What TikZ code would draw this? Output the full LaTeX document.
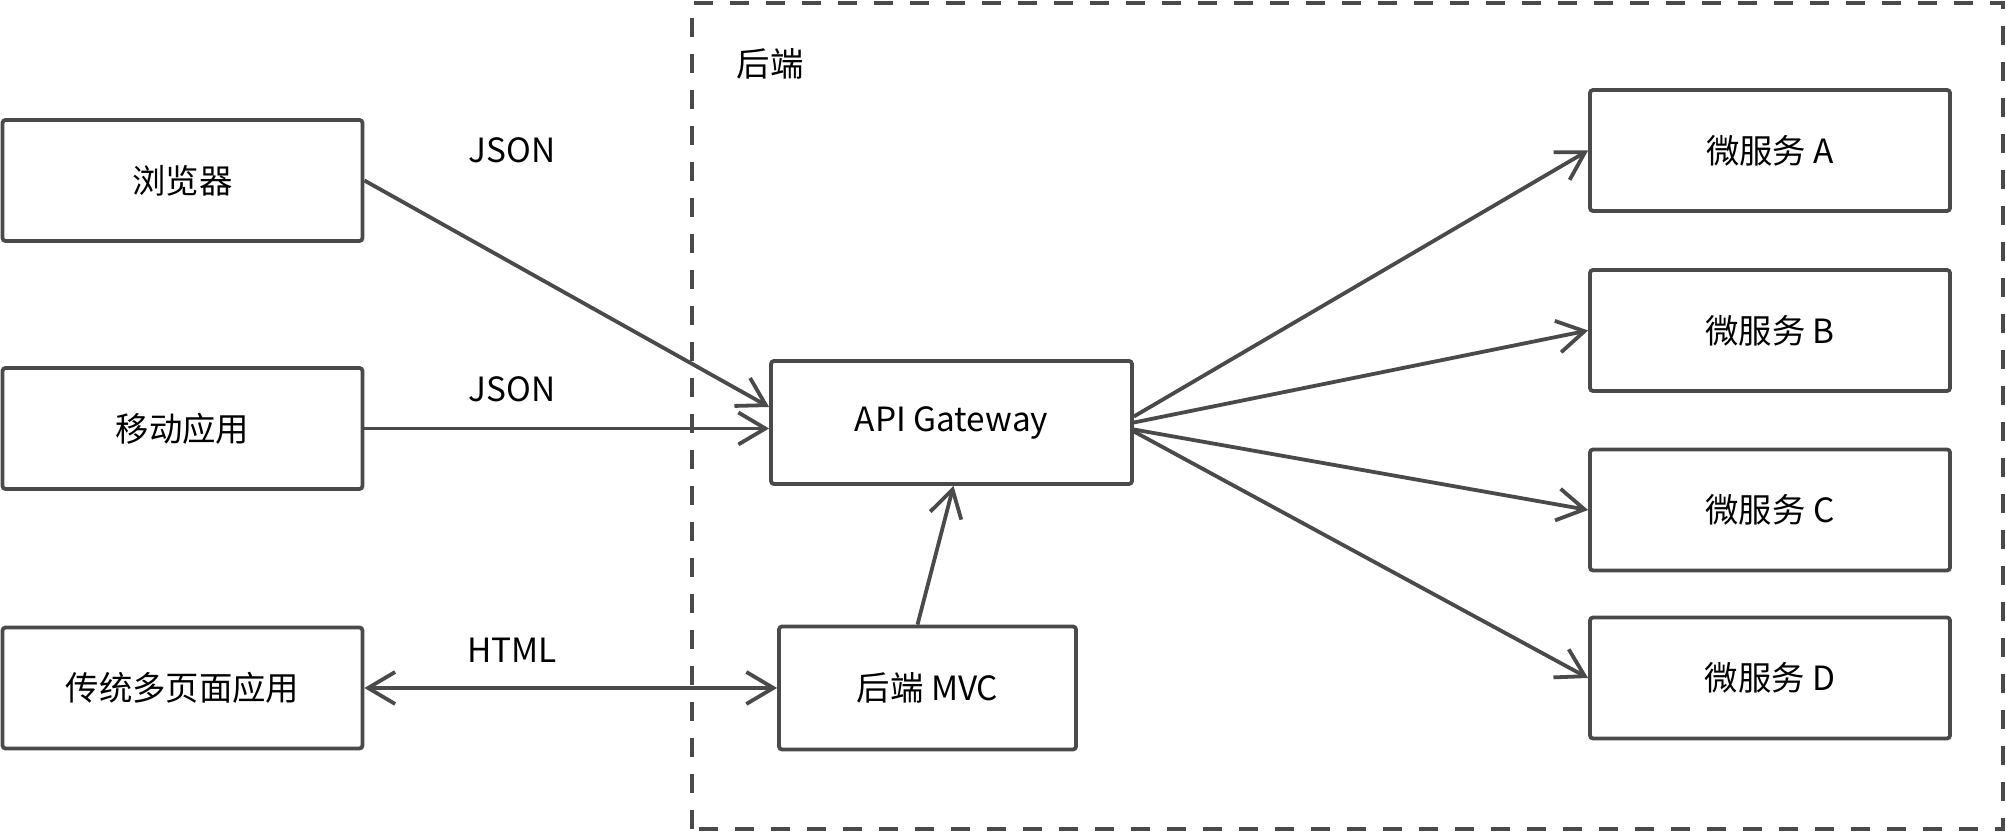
\documentclass[tikz,border=0pt]{standalone}
\usepackage{fontspec}
\setmainfont{Noto Sans CJK SC}
\usetikzlibrary{arrows.meta}
\definecolor{linegray}{HTML}{4A4A4A}
\begin{document}
\begin{tikzpicture}[
    font=\fontsize{9.5}{11}\selectfont,
    box/.style={draw=linegray, line width=0.038cm, rounded corners=0.03cm,
        minimum width=3.6cm, minimum height=1.21cm, inner sep=0pt},
    arrow/.style={draw=linegray, line width=0.038cm,
        -{Straight Barb[length=0.27cm, width=0.32cm, line width=0.038cm]}},
    dblarrow/.style={arrow, {Straight Barb[length=0.27cm, width=0.32cm, line width=0.038cm]}-{Straight Barb[length=0.27cm, width=0.32cm, line width=0.038cm]}}
]
\useasboundingbox (0,0) rectangle (20.06,8.32);
% backend area
\draw[linegray, line width=0.04cm, dash pattern=on 0.19cm off 0.17cm] (6.92,0.03) rectangle (20.03,8.29);
\node (backend) at (7.70,7.68) {后端};
% clients
\node[box] (browser) at (1.825,6.515) {浏览器};
\node[box] (mobile) at (1.825,4.035) {移动应用};
\node[box] (legacy) at (1.825,1.44) {传统多页面应用};
% backend services
\node[box, minimum width=3.61cm, minimum height=1.23cm] (gateway) at (9.515,4.095) {API Gateway};
\node[box, minimum width=2.97cm, minimum height=1.23cm] (mvc) at (9.275,1.44) {后端 MVC};
% labels
\node (json1) at (5.12,6.82) {JSON};
\node (json2) at (5.12,4.43) {JSON};
\node (html) at (5.12,1.82) {HTML};
% connectors
\draw[arrow] (browser.east) -- ([yshift=0.155cm]gateway.west);
\draw[arrow] (mobile.east) -- (mobile.east -| gateway.west);
\draw[dblarrow] (legacy.east) -- (legacy.east -| mvc.west);
\draw[arrow] ([xshift=-0.1cm]mvc.north) -- ([xshift=0.02cm]gateway.south);
\foreach \name/\y/\shift in {A/6.815/0.06cm, B/5.015/0cm, C/3.22/-0.07cm, D/1.54/-0.09cm}{
    \node[box] (ms\name) at (17.70,\y) {微服务 \name};
    \draw[arrow] ([yshift=\shift]gateway.east) -- (ms\name.west);
}
\end{tikzpicture}
\end{document}
